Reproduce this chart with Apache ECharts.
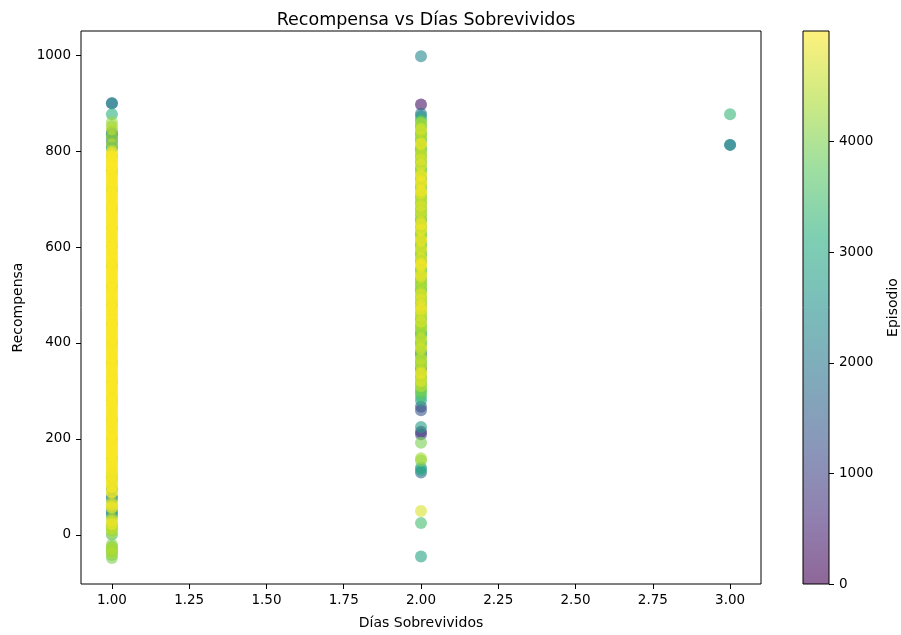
<!DOCTYPE html>
<html>
<head>
<meta charset="utf-8">
<script src="https://cdn.jsdelivr.net/npm/echarts@6/dist/echarts.min.js"></script>
<style>html,body{margin:0;padding:0;background:#fff}#c{width:901px;height:635px}</style>
</head>
<body>
<div id="c"></div>
<script>
// ---- Data ----
const xTicks = [1.00, 1.25, 1.50, 1.75, 2.00, 2.25, 2.50, 2.75, 3.00];
const yTicks = [0, 200, 400, 600, 800, 1000];
const cbTicks = [0, 1000, 2000, 3000, 4000];

// Day 1 (Días Sobrevividos = 1)
const recompensaDia1 = [900, 900, 877, 840, 832, 825, 818, 810, 835, 805, 790, 760, 720, 680, 640, 600, 560, 520, 480, 440, 400, 360, 320, 280, 240, 200, 160, 120, 95, 80, 75, 50, 45, 40, 60, 20, 10, 0, -25, -35, -42, -48,
  860, 852, 845, 830, 815, 800, 790, 780, 770, 760, 750, 740, 730, 720, 710, 700, 690, 680, 670, 660, 650, 640, 630, 620, 610, 600, 590, 580, 570, 560, 550, 540, 530, 520, 510, 500, 490, 480, 470, 460, 450, 440, 430, 420, 410, 400, 390, 380, 370, 360, 350, 340, 330, 320, 310, 300, 290, 280, 270, 260, 250, 240, 230, 220, 210, 200, 190, 180, 170, 160, 150, 140, 130, 120, 110, 100,
  90, 70, 55, 35, 25, 15, 5, -20, -30, -40, -50];
const episodioDia1 = [1950, 2150, 3150, 1500, 2000, 2300, 1700, 2600, 2800, 3000, 3300, 3500, 3400, 3700, 3600, 3800, 3500, 3900, 3700, 3600, 3800, 3500, 3900, 3700, 3400, 3800, 3600, 3300, 3000, 2200, 2000, 2300, 1800, 2600, 3200, 3500, 3700, 3400, 3600, 3300, 3900, 4000,
  4250, 4150, 4500, 4350, 4450, 4700, 4900, 4812, 4955, 4731, 4880, 4990, 4764, 4921, 4843, 4978, 4702, 4869, 4937, 4795, 4910, 4858, 4983, 4745, 4899, 4967, 4820, 4941, 4776, 4904, 4988, 4837, 4952, 4719, 4876, 4994, 4803, 4930, 4861, 4973, 4757, 4915, 4886, 4946, 4828, 4962, 4791, 4909, 4871, 4985, 4738, 4924, 4850, 4969, 4782, 4938, 4895, 4957, 4811, 4977, 4866, 4929, 4748, 4903, 4992, 4834, 4948, 4690, 4874, 4916, 4630, 4820, 4560, 4760,
  4800, 4600, 4700, 4200, 4400, 4300, 4500, 4250, 4400, 4150, 4100];
// Day 1, dense late-episode band
const recompensaDia1b = [796, 790, 784, 778, 772, 766, 760, 754, 748, 742, 736, 730, 724, 718, 712, 706, 700, 694, 688, 682, 676, 670, 664, 658, 652, 646, 640, 634, 628, 622, 616, 610, 604, 598, 592, 586, 580, 574, 568, 562, 556, 550, 544, 538, 532, 526, 520, 514, 508, 502, 496, 490, 484, 478, 472, 466, 460, 454, 448, 442, 436, 430, 424, 418, 412, 406, 400, 394, 388, 382, 376, 370, 364, 358, 352, 346, 340, 334, 328, 322, 316, 310, 304, 298, 292, 286, 280, 274, 268, 262, 256, 250, 244, 238, 232, 226, 220, 214, 208, 202, 196, 190, 184, 178, 172, 166, 160, 154, 148, 142, 136, 130, 124, 118, 112, 106, 100,
  88, 64, 58, 30, 22, 12, -28, -38];
const episodioDia1b = [4951, 4987, 4902, 4965, 4938, 4996, 4919, 4972, 4884, 4959, 4993, 4927, 4968, 4911, 4981, 4946, 4893, 4975, 4932, 4999, 4957, 4908, 4984, 4941, 4966, 4923, 4989, 4952, 4897, 4979, 4936, 4961, 4915, 4992, 4948, 4970, 4927, 4983, 4955, 4904, 4976, 4939, 4994, 4963, 4918, 4980, 4944, 4967, 4899, 4986, 4958, 4929, 4973, 4912, 4990, 4949, 4964, 4921, 4982, 4937, 4997, 4954, 4906, 4971, 4943, 4985, 4926, 4960, 4914, 4978, 4950, 4995, 4933, 4969, 4909, 4988, 4945, 4962, 4924, 4981, 4940, 4998, 4956, 4917, 4974, 4931, 4991, 4953, 4903, 4977, 4947, 4965, 4920, 4984, 4935, 4958, 4896, 4979, 4942, 4993, 4925, 4968, 4910, 4986, 4951, 4934, 4972, 4888, 4960, 4916, 4944, 4874, 4930, 4855, 4912, 4839, 4898,
  4940, 4870, 4960, 4780, 4910, 4520, 4380, 4460];

// Day 2
const recompensaDia2 = [998, 897, 878, 872, 865, 858, 850, 842, 835, 828, 820, 812, 805, 797, 790, 782, 775, 767, 760, 752, 745, 737, 730, 722, 715, 707, 700, 692, 685, 677, 670, 662, 655, 647, 640, 632, 625, 617, 610, 602, 595, 587, 580, 572, 565, 557, 550, 542, 535, 527, 520, 512, 505, 497, 490, 482, 475, 467, 460, 452, 445, 437, 430, 422, 415, 407, 400, 392, 385, 377, 370, 362, 355, 347, 340, 332, 325, 317, 310, 302, 295, 288, 280, 267, 260, 225, 215, 210, 192, 160, 155, 140, 135, 130, 50, 25, -45];
const episodioDia2 = [2300, 250, 1850, 2600, 3300, 4300, 3700, 4450, 3100, 4200, 3800, 4600, 3500, 4350, 2900, 4700, 3900, 4100, 3400, 4550, 3700, 4800, 4200, 3000, 4650, 3800, 4400, 3300, 4750, 4000, 3600, 4500, 2800, 4850, 3900, 4300, 3500, 4600, 4100, 3200, 4700, 3800, 4400, 2700, 4900, 4200, 3600, 4650, 3100, 4350, 3900, 2500, 4500, 3700, 4800, 4000, 3400, 4600, 4250, 3000, 4700, 3800, 4400, 2600, 3600, 4550, 3200, 4300, 3900, 600, 4000, 3500, 4400, 450, 4650, 3700, 4200, 3300, 4500, 3900, 3600, 3400, 2900, 1150, 1300, 2800, 700, 900, 3950, 4300, 4100, 2700, 3000, 1700, 4700, 3450, 2900];
// Day 2, additional points inside the dense band
const recompensaDia2b = [861, 853, 846, 838, 831, 824, 816, 808, 801, 793, 786, 778, 771, 763, 756, 748, 741, 733, 726, 718, 711, 703, 696, 688, 681, 673, 666, 658, 651, 643, 636, 628, 621, 613, 606, 598, 591, 583, 576, 568, 561, 553, 546, 538, 531, 523, 516, 508, 501, 493, 486, 478, 471, 463, 456, 448, 441, 433, 426, 418, 411, 403, 396, 388, 381, 373, 366, 358, 351, 343, 336, 328, 321, 313, 306, 298];
const episodioDia2b = [4100, 3650, 4720, 3980, 4480, 3350, 4900, 4050, 3750, 4600, 4230, 3550, 4820, 3900, 4380, 4950, 3700, 4880, 4150, 4930, 4760, 3850, 4520, 4300, 3600, 4680, 4020, 3450, 4790, 4150, 4920, 3800, 4440, 4860, 3950, 4620, 4100, 3500, 4780, 4330, 4960, 3750, 4560, 4870, 4000, 3650, 4420, 3850, 4740, 4210, 3550, 4910, 4840, 4070, 4630, 3700, 4390, 3900, 4170, 3600, 4500, 3820, 4280, 4700, 3400, 4060, 4580, 3750, 4350, 3950, 4890, 4120, 4810, 4000, 3680, 3850];

// Day 3
const recompensaDia3 = [877, 813, 813];
const episodioDia3 = [3300, 2200, 2250];

const viridis = ['#440154', '#472d7b', '#3b528b', '#2c728e', '#21918c', '#28ae80', '#5ec962', '#addc30', '#fde725'];

// ---- Build points, drawn in episode order (later on top) ----
const points = [];
recompensaDia1.forEach((r, i) => points.push([1, r, episodioDia1[i]]));
recompensaDia1b.forEach((r, i) => points.push([1, r, episodioDia1b[i]]));
recompensaDia2.forEach((r, i) => points.push([2, r, episodioDia2[i]]));
recompensaDia2b.forEach((r, i) => points.push([2, r, episodioDia2b[i]]));
recompensaDia3.forEach((r, i) => points.push([3, r, episodioDia3[i]]));
points.sort((a, b) => a[2] - b[2]);

function hexToRgba(h, a) {
  const n = parseInt(h.slice(1), 16);
  return 'rgba(' + (n >> 16 & 255) + ',' + (n >> 8 & 255) + ',' + (n & 255) + ',' + a + ')';
}
const cbStops = viridis.map((c, i) => ({ offset: i / (viridis.length - 1), color: hexToRgba(c, 0.6) }));

const FONT = 'DejaVu Sans';
const TICK = 13.5;
const chart = echarts.init(document.getElementById('c'), null, { renderer: 'canvas' });
chart.setOption({
  animation: false,
  backgroundColor: '#fff',
  textStyle: { fontFamily: FONT },
  title: {
    text: 'Recompensa vs Días Sobrevividos',
    left: 421, top: 6, textAlign: 'center',
    textStyle: { fontFamily: FONT, fontSize: 17.5, fontWeight: 'normal', color: '#000' }
  },
  grid: [
    { left: 81, right: 140, top: 31, bottom: 51, show: true, borderColor: '#000', borderWidth: 1, backgroundColor: 'transparent' },
    { left: 803, right: 71, top: 31, bottom: 51, show: true, borderColor: '#000', borderWidth: 1,
      backgroundColor: { type: 'linear', x: 0, y: 1, x2: 0, y2: 0, colorStops: cbStops } }
  ],
  xAxis: [
    {
      gridIndex: 0, type: 'value', min: 0.9, max: 3.1,
      name: 'Días Sobrevividos', nameLocation: 'middle', nameGap: 32,
      nameTextStyle: { fontFamily: FONT, fontSize: 14, color: '#000' },
      axisLine: { show: false, onZero: false },
      axisTick: { show: true, length: 5, lineStyle: { color: '#000' }, customValues: xTicks },
      axisLabel: { color: '#000', fontSize: TICK, fontFamily: FONT, margin: 9, customValues: xTicks,
        formatter: v => v.toFixed(2) },
      splitLine: { show: false }
    },
    { gridIndex: 1, type: 'value', min: 0, max: 1, show: false }
  ],
  yAxis: [
    {
      gridIndex: 0, type: 'value', min: -102.4, max: 1050.4,
      name: 'Recompensa', nameLocation: 'middle', nameGap: 55, nameRotate: 90,
      nameTextStyle: { fontFamily: FONT, fontSize: 14, color: '#000' },
      axisLine: { show: false, onZero: false },
      axisTick: { show: true, length: 5, lineStyle: { color: '#000' }, customValues: yTicks },
      axisLabel: { color: '#000', fontSize: TICK, fontFamily: FONT, margin: 10, customValues: yTicks,
        formatter: v => String(v) },
      splitLine: { show: false }
    },
    {
      gridIndex: 1, type: 'value', min: 0, max: 4999, position: 'right',
      name: 'Episodio', nameLocation: 'middle', nameGap: 57, nameRotate: 90,
      nameTextStyle: { fontFamily: FONT, fontSize: 14, color: '#000' },
      axisLine: { show: false, onZero: false },
      axisTick: { show: true, length: 5, lineStyle: { color: '#000' }, customValues: cbTicks },
      axisLabel: { color: '#000', fontSize: TICK, fontFamily: FONT, margin: 10, customValues: cbTicks,
        formatter: v => String(v) },
      splitLine: { show: false }
    }
  ],
  visualMap: {
    show: false, type: 'continuous', dimension: 2, min: 0, max: 4999, seriesIndex: 0,
    inRange: { color: viridis }
  },
  series: [{
    type: 'scatter', xAxisIndex: 0, yAxisIndex: 0,
    symbol: 'circle', symbolSize: 12, large: false, progressive: 0,
    itemStyle: { opacity: 0.6 },
    emphasis: { disabled: true },
    data: points
  }]
});
</script>
</body>
</html>
